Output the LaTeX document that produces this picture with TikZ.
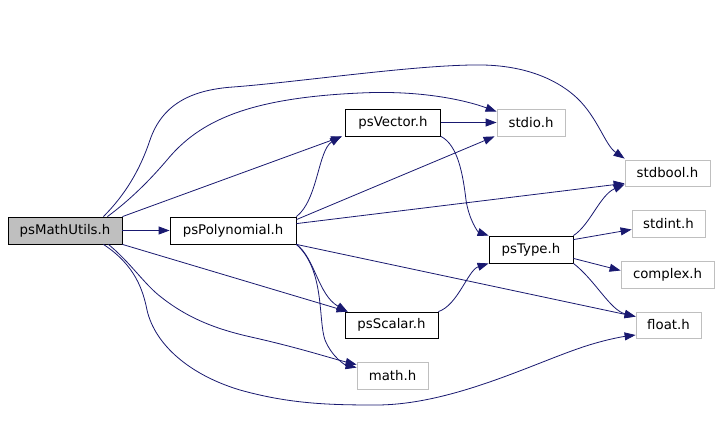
\documentclass[tikz,border=0pt]{standalone}
\usepackage{fontspec}
\setmainfont{DejaVu Sans}
\usetikzlibrary{arrows.meta}
\definecolor{edgeblue}{HTML}{191970}
\definecolor{sysgray}{HTML}{BFBFBF}
\begin{document}
\begin{tikzpicture}[x=1pt,y=-1pt,
  box/.style={draw=black, line width=0.8pt, minimum height=27pt, inner sep=0pt,
    font=\fontsize{13.3}{15}\selectfont},
  sysbox/.style={box, draw=sysgray},
  edge/.style={draw=edgeblue, line width=0.8pt, -{Triangle[length=11pt,width=8pt]}}]
\useasboundingbox[fill=white] (0,0) rectangle (722,447);

\node[box, fill=sysgray, minimum width=114pt] (mu) at (65,230.5) {psMathUtils.h};
\node[box, minimum width=126pt] (pp) at (233,230.5) {psPolynomial.h};
\node[box, minimum width=95pt] (pv) at (393,122.5) {psVector.h};
\node[sysbox, minimum width=68pt] (stdio) at (531,122.5) {stdio.h};
\node[sysbox, minimum width=85pt, minimum height=26pt] (stdbool) at (667.5,173) {stdbool.h};
\node[sysbox, minimum width=73pt] (stdint) at (668.5,223.5) {stdint.h};
\node[box, minimum width=84pt] (pt) at (531,249.5) {psType.h};
\node[sysbox, minimum width=93pt] (complex) at (667.5,274.5) {complex.h};
\node[sysbox, minimum width=65pt, minimum height=26pt] (float) at (668.5,325) {float.h};
\node[box, minimum width=93pt, minimum height=26pt] (ps) at (391.5,325) {psScalar.h};
\node[sysbox, minimum width=71pt] (math) at (392.5,375.5) {math.h};

% psMathUtils.h
\draw[edge] (mu) -- (pp);
\draw[edge] (mu.north east) -- ([xshift=-3pt]pv.south west);
\draw[edge] (mu.south east) -- ([xshift=3pt]ps.north west);
\draw[edge] ([xshift=-19pt]mu.north east) .. controls (125,195) and (140,170) .. (150,140)
  .. controls (162,105) and (190,90) .. (233,87)
  .. controls (300,82) and (420,64) .. (483,65)
  .. controls (530,66) and (560,82) .. (577,98)
  .. controls (598,118) and (605,145) .. ([yshift=1pt]stdbool.north west);
\draw[edge] ([xshift=-15pt]mu.north east) .. controls (130,200) and (150,180) .. (167,160)
  .. controls (200,120) and (250,98) .. (360,93)
  .. controls (420,90) and (465,100) .. ([yshift=-3pt]stdio.north west);
\draw[edge] ([xshift=-14pt]mu.south east) .. controls (130,262) and (145,285) .. (161,297)
  .. controls (190,320) and (220,330) .. (251,337)
  .. controls (300,348) and (330,358) .. ([yshift=-3pt]math.north west);
\draw[edge] ([xshift=-19pt]mu.south east) .. controls (135,265) and (143,290) .. (147,310)
  .. controls (155,345) and (190,375) .. (240,390)
  .. controls (290,404) and (330,405) .. (376,405)
  .. controls (450,405) and (530,365) .. (580,348)
  .. controls (600,341) and (620,337) .. ([yshift=-10pt]float.west);

% psPolynomial.h
\draw[edge] (pp.north east) .. controls (318,200) and (318,150) .. ([xshift=-4pt]pv.south west);
\draw[edge] ([yshift=-3pt]pp.north east) -- ([xshift=-2pt]stdio.south west);
\draw[edge] ([yshift=-7pt]pp.north east) -- ([yshift=3pt]stdbool.south west);
\draw[edge] (pp.south east) -- ([yshift=-5pt]float.north west);
\draw[edge] (pp.south east) .. controls (315,258) and (318,295) .. ([xshift=3pt]ps.north west);
\draw[edge] (pp.south east) .. controls (325,270) and (318,320) .. (325,340)
  .. controls (332,357) and (345,365) .. ([yshift=-6pt]math.north west);

% psVector.h
\draw[edge] (pv) -- (stdio);
\draw[edge] (pv.south east) .. controls (458,145) and (463,175) .. (466,200)
  .. controls (469,220) and (478,232) .. (pt.north west);

% psScalar.h
\draw[edge] (ps.north east) .. controls (458,305) and (468,270) .. (pt.south west);

% psType.h
\draw[edge] (pt.north east) .. controls (590,225) and (600,195) .. ([yshift=2pt]stdbool.south west);
\draw[edge] ([yshift=-4pt]pt.north east) -- ([yshift=-6pt]stdint.west);
\draw[edge] ([yshift=5pt]pt.south east) -- ([yshift=4pt]complex.west);
\draw[edge] (pt.south east) .. controls (595,280) and (610,310) .. ([yshift=-5pt]float.north west);
\end{tikzpicture}
\end{document}
